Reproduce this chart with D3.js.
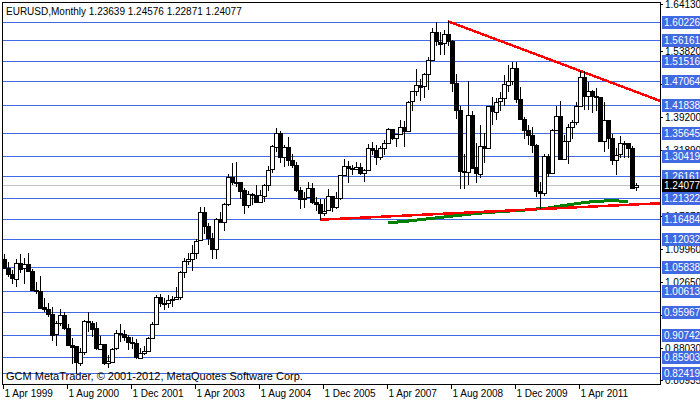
<!DOCTYPE html>
<html><head><meta charset="utf-8">
<script src="https://cdn.jsdelivr.net/npm/d3@7"></script>
<style>body{margin:0;background:#fff}svg{display:block}text{font-family:"Liberation Sans",Arial,sans-serif;font-size:10px}</style>
</head><body><div id="chart"></div>
<script>
// monthly EURUSD, Jan 1999 .. Jun 2012
var firstOpen = 1.1789;
var closes = [
1.1385,1.0985,1.0765,1.0575,1.0435,1.0340,1.0690,1.0565,1.0660,1.0510,1.0080,1.0070,
0.9700,0.9665,0.9560,0.9105,0.9350,0.9530,0.9250,0.8870,0.8830,0.8470,0.8710,0.9390,
0.9360,0.9230,0.8780,0.8880,0.8460,0.8500,0.8780,0.9120,0.9110,0.9040,0.8930,0.8900,
0.8590,0.8690,0.8730,0.9010,0.9330,0.9920,0.9780,0.9800,0.9860,0.9890,0.9930,1.0490,
1.0730,1.0780,1.0910,1.1170,1.1800,1.1490,1.1230,1.0980,1.1650,1.1590,1.1990,1.2590,
1.2480,1.2480,1.2290,1.1960,1.2200,1.2180,1.2030,1.2180,1.2420,1.2750,1.3270,1.3570,
1.3030,1.3250,1.2960,1.2860,1.2300,1.2100,1.2130,1.2340,1.2030,1.1980,1.1790,1.1840,
1.2160,1.1920,1.2120,1.2620,1.2820,1.2780,1.2760,1.2810,1.2680,1.2750,1.3240,1.3190,
1.3030,1.3230,1.3350,1.3660,1.3450,1.3540,1.3700,1.3620,1.4260,1.4490,1.4630,1.4590,
1.4860,1.5180,1.5790,1.5590,1.5550,1.5760,1.5600,1.4670,1.4080,1.2730,1.2700,1.3970,
1.2800,1.2660,1.3280,1.3230,1.4150,1.4030,1.4260,1.4330,1.4640,1.4720,1.5000,1.4320,
1.3870,1.3630,1.3510,1.3290,1.2280,1.2230,1.3050,1.2680,1.3630,1.3930,1.2980,1.3380,
1.3690,1.3800,1.4160,1.4810,1.4390,1.4500,1.4390,1.4370,1.3390,1.3860,1.3450,1.2960,
1.3080,1.3330,1.3340,1.3240,1.23639,1.24077];
var highs = [
1.1906,1.1400,1.1000,1.0880,1.0700,1.0530,1.0770,1.0880,1.0800,1.0900,1.0540,1.0270,
1.0400,0.9900,0.9800,0.9700,0.9400,0.9650,0.9600,0.9330,0.9020,0.8800,0.8790,0.9420,
0.9590,0.9400,0.9380,0.9060,0.8890,0.8630,0.8800,0.9200,0.9320,0.9200,0.9080,0.9030,
0.9000,0.8800,0.8840,0.9050,0.9380,0.9970,0.9990,0.9900,0.9960,0.9940,1.0140,1.0500,
1.0800,1.0900,1.1080,1.1220,1.1930,1.1930,1.1560,1.1350,1.1670,1.1800,1.2000,1.2650,
1.2900,1.2930,1.2380,1.2340,1.2270,1.2240,1.2400,1.2300,1.2440,1.2820,1.3300,1.3670,
1.3600,1.3300,1.3480,1.3100,1.2930,1.2370,1.2250,1.2480,1.2460,1.2140,1.2100,1.2100,
1.2330,1.2140,1.2260,1.2640,1.2980,1.2940,1.2860,1.2910,1.2900,1.2760,1.3320,1.3370,
1.3300,1.3270,1.3400,1.3680,1.3580,1.3550,1.3850,1.3820,1.4280,1.4500,1.4970,1.4750,
1.4900,1.5250,1.5900,1.6020,1.5800,1.5840,1.6038,1.5620,1.4860,1.4150,1.3090,1.4720,
1.4060,1.3330,1.3740,1.3560,1.4160,1.4350,1.4330,1.4470,1.4840,1.5060,1.5140,1.5140,
1.4580,1.3910,1.3740,1.3690,1.3320,1.2470,1.3090,1.3090,1.3640,1.4160,1.4280,1.3510,
1.3770,1.3860,1.4250,1.4940,1.4940,1.4700,1.4510,1.4550,1.4370,1.4250,1.3850,1.3550,
1.3230,1.3490,1.3390,1.3330,1.3280,1.24576];
var lows = [
1.1370,1.0940,1.0710,1.0550,1.0370,1.0220,1.0150,1.0460,1.0220,1.0480,1.0050,1.0000,
0.9680,0.9600,0.9480,0.8950,0.8840,0.9280,0.9200,0.8840,0.8440,0.8228,0.8400,0.8650,
0.9150,0.9050,0.8750,0.8770,0.8430,0.8360,0.8500,0.8750,0.8930,0.8960,0.8760,0.8780,
0.8560,0.8570,0.8650,0.8720,0.9000,0.9310,0.9710,0.9640,0.9690,0.9700,0.9860,0.9870,
1.0350,1.0640,1.0500,1.0780,1.1160,1.1330,1.1090,1.0770,1.0760,1.1560,1.1400,1.1950,
1.2400,1.2360,1.2090,1.1760,1.1900,1.1960,1.2020,1.2000,1.2030,1.2280,1.2670,1.3140,
1.2900,1.2800,1.2840,1.2790,1.2250,1.1870,1.1910,1.2170,1.1990,1.1830,1.1640,1.1720,
1.1980,1.1820,1.1870,1.2070,1.2620,1.2460,1.2620,1.2750,1.2620,1.2480,1.2740,1.3070,
1.2860,1.2960,1.3080,1.3340,1.3400,1.3260,1.3520,1.3260,1.3600,1.4060,1.4390,1.4270,
1.4340,1.4520,1.5170,1.5480,1.5290,1.5300,1.5490,1.4460,1.3880,1.2330,1.2330,1.2420,
1.2770,1.2450,1.2560,1.2890,1.3230,1.3740,1.3850,1.4050,1.4150,1.4460,1.4620,1.4220,
1.3860,1.3440,1.3300,1.3110,1.2140,1.1876,1.2160,1.2590,1.2650,1.3700,1.2970,1.3070,
1.2870,1.3430,1.3750,1.4140,1.4070,1.4080,1.4000,1.4050,1.3380,1.3140,1.3210,1.2860,
1.2620,1.3000,1.3000,1.3000,1.2370,1.22871];

// long moving average: month index / value
var maIdx = [99,104,109,114,119,124,129,134,139,144,149,154,159];
var maVal = [1.157,1.161,1.166,1.171,1.176,1.180,1.183,1.186,1.190,1.197,1.203,1.206,1.205];

var levels = [1.60226,1.56161,1.51516,1.47064,1.41838,1.35645,1.30419,1.26161,1.21322,
  1.16484,1.12032,1.05838,1.00613,0.95967,0.90742,0.85903,0.82419];
var scaleLabels = ["1.64130","1.53820","1.46510","1.39200","1.31890","1.17270","1.09960","1.02650","0.95340","0.88030","0.80935"];
var currentPrice = 1.24077;
var timeLabels = ["1 Apr 1999","1 Aug 2000","1 Dec 2001","1 Apr 2003","1 Aug 2004","1 Dec 2005","1 Apr 2007","1 Aug 2008","1 Dec 2009","1 Apr 2011"];
var timeIdx = [3,19,35,51,67,83,99,115,131,147];
// trend lines: [month index, price]
var upperTrend = [[114,1.6038],[147,1.4940]];
var lowerTrend = [[82,1.1640],[137,1.1876]];

var W = 700, H = 402;
var pLeft = 2, pRight = 660, pTop = 2, pBottom = 384;
var x = d3.scaleLinear().domain([3,167]).range([4,660]);
var y = d3.scaleLinear().domain([0.82419,1.60226]).range([373,22]);

var svg = d3.select("#chart").append("svg").attr("width",W).attr("height",H);
var defs = svg.append("defs");
defs.append("clipPath").attr("id","plotclip").append("rect")
  .attr("x",pLeft).attr("y",pTop).attr("width",pRight-pLeft).attr("height",pBottom-pTop);

var plot = svg.append("g").attr("clip-path","url(#plotclip)").attr("shape-rendering","crispEdges");

plot.selectAll("line.lvl").data(levels).enter().append("line")
  .attr("x1",pLeft).attr("x2",pRight)
  .attr("y1",function(d){return Math.round(y(d))+0.5;}).attr("y2",function(d){return Math.round(y(d))+0.5;})
  .attr("stroke","#4169E1").attr("stroke-width",1);
plot.append("line").attr("x1",pLeft).attr("x2",pRight)
  .attr("y1",Math.round(y(currentPrice))+0.5).attr("y2",Math.round(y(currentPrice))+0.5)
  .attr("stroke","#c0c0c0");

// moving average
plot.append("path").datum(maIdx.map(function(d,i){return [d,maVal[i]];}))
  .attr("d",d3.line().x(function(d){return x(d[0]);}).y(function(d){return y(d[1]);}))
  .attr("fill","none").attr("stroke","#008000").attr("stroke-width",3);

function trend(pts){
  var slope = (pts[1][1]-pts[0][1])/(pts[1][0]-pts[0][0]);
  var endI = 170;
  return [pts[0],[endI, pts[0][1]+slope*(endI-pts[0][0])]];
}
[upperTrend, lowerTrend].forEach(function(t){
  var p = trend(t);
  plot.append("line").attr("x1",x(p[0][0])).attr("y1",y(p[0][1]))
    .attr("x2",x(p[1][0])).attr("y2",y(p[1][1]))
    .attr("stroke","#ff0000").attr("stroke-width",2.5);
});

var candles = closes.map(function(c,i){
  return {i:i, o: i===0 ? firstOpen : closes[i-1], h:highs[i], l:lows[i], c:c};
});
var cg = plot.selectAll("g.c").data(candles).enter().append("g");
cg.append("line")
  .attr("x1",function(d){return Math.round(x(d.i))+0.5;}).attr("x2",function(d){return Math.round(x(d.i))+0.5;})
  .attr("y1",function(d){return y(d.h);}).attr("y2",function(d){return y(d.l);})
  .attr("stroke","#000");
cg.append("rect")
  .attr("x",function(d){return Math.round(x(d.i))-1.5;})
  .attr("width",4)
  .attr("y",function(d){return Math.round(y(Math.max(d.o,d.c)))+0.5;})
  .attr("height",function(d){return Math.max(1,Math.round(Math.abs(y(d.o)-y(d.c))));})
  .attr("fill",function(d){return d.c>=d.o ? "#fff" : "#000";})
  .attr("stroke","#000");

// frame
svg.append("rect").attr("x",pLeft+0.5).attr("y",pTop+0.5).attr("width",pRight-pLeft).attr("height",pBottom-pTop)
  .attr("fill","none").attr("stroke","#000").attr("shape-rendering","crispEdges");

// price scale
var axisG = svg.append("g").style("font-size","9.5px");
axisG.selectAll("g.sl").data(scaleLabels).enter().append("g").each(function(d){
  var g = d3.select(this), yy = Math.round(y(+d));
  g.append("line").attr("x1",pRight).attr("x2",pRight+3).attr("y1",yy+0.5).attr("y2",yy+0.5).attr("stroke","#000");
  g.append("text").attr("x",665).attr("y",yy+4).text(d);
});
axisG.selectAll("g.lb").data(levels).enter().append("g").each(function(d){
  var g = d3.select(this), yy = Math.round(y(d));
  g.append("rect").attr("x",662).attr("y",yy-6).attr("width",38).attr("height",13).attr("fill","#4169E1");
  g.append("text").attr("x",664).attr("y",yy+4).attr("fill","#fff").text(d3.format(".5f")(d));
});
var cy = Math.round(y(currentPrice));
axisG.append("rect").attr("x",662).attr("y",cy-6).attr("width",38).attr("height",13).attr("fill","#000");
axisG.append("text").attr("x",664).attr("y",cy+4).attr("fill","#fff").text(d3.format(".5f")(currentPrice));

// time scale
timeIdx.forEach(function(t,k){
  var xx = Math.round(x(t))-0.5;
  svg.append("line").attr("x1",xx).attr("x2",xx).attr("y1",pBottom).attr("y2",pBottom+5).attr("stroke","#000");
  svg.append("text").attr("x",xx+1).attr("y",397).text(timeLabels[k]);
});

svg.append("text").attr("x",6).attr("y",15).text("EURUSD,Monthly  1.23639 1.24576 1.22871 1.24077");
svg.append("text").attr("x",6).attr("y",380).style("font-size","11px")
  .text("GCM MetaTrader, \u00a9 2001-2012, MetaQuotes Software Corp.");
</script></body></html>
